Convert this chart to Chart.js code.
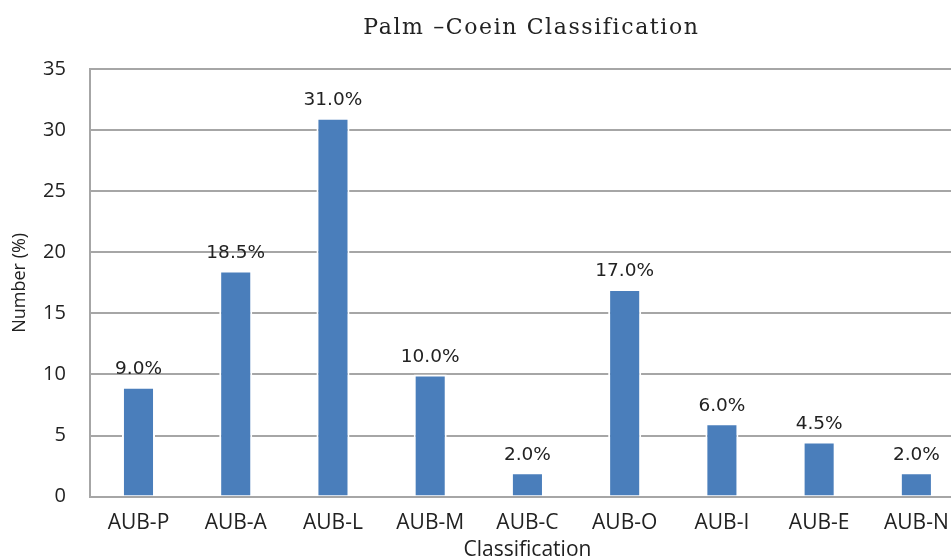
<!DOCTYPE html>
<html>
<head>
<meta charset="utf-8">
<script src="https://cdn.jsdelivr.net/npm/chart.js@4.4.0/dist/chart.umd.min.js"></script>
<style>
  html, body { margin: 0; padding: 0; background: #fff; overflow: hidden; }
  #wrap { width: 966px; height: 567px; }
</style>
</head>
<body>
<div id="wrap"><canvas id="palmchart"></canvas></div>
<script>
// chart data
const categories = ["AUB-P", "AUB-A", "AUB-L", "AUB-M", "AUB-C", "AUB-O", "AUB-I", "AUB-E", "AUB-N"];
const percentValues = [9.0, 18.5, 31.0, 10.0, 2.0, 17.0, 6.0, 4.5, 2.0];
const yTicks = [0, 5, 10, 15, 20, 25, 30, 35];

// title over the plot area + rotated y axis title
const titlePlugin = {
  id: "plotTitle",
  afterDraw(chart) {
    const ctx = chart.ctx;
    const area = chart.chartArea;
    ctx.save();
    ctx.fillStyle = "#222";
    ctx.font = "22px 'DejaVu Serif'";
    ctx.letterSpacing = "1.6px";
    ctx.textAlign = "center";
    ctx.textBaseline = "middle";
    ctx.fillText("Palm \u2013Coein Classification", (area.left + area.right) / 2 + 4, 28);
    ctx.restore();

    ctx.save();
    ctx.fillStyle = "#222";
    ctx.font = "18px 'Open Sans'";
    ctx.textAlign = "center";
    ctx.textBaseline = "middle";
    ctx.translate(20, (area.top + area.bottom) / 2);
    ctx.rotate(-Math.PI / 2);
    ctx.fillText("Number (%)", 0, 0);
    ctx.restore();
  },
};

// percentage labels above bars
const valueLabels = {
  id: "valueLabels",
  afterDatasetsDraw(chart) {
    const ctx = chart.ctx;
    const meta = chart.getDatasetMeta(0);
    ctx.save();
    ctx.fillStyle = "#222";
    ctx.font = "18.5px 'DejaVu Sans'";
    ctx.textAlign = "center";
    ctx.textBaseline = "bottom";
    meta.data.forEach(function (bar, i) {
      ctx.fillText(percentValues[i].toFixed(1) + "%", bar.x, bar.y - 8);
    });
    ctx.restore();
  },
};

var ctx = document.getElementById("palmchart").getContext("2d");
var myChart = new Chart(ctx, {
  type: "bar",
  data: {
    labels: categories,
    datasets: [
      {
        label: "Number (%)",
        data: percentValues,
        backgroundColor: "#4a7ebb",
        borderColor: "#ffffff",
        borderWidth: 2,
        barPercentage: 0.34,
        categoryPercentage: 1,
      },
    ],
  },
  options: {
    responsive: true,
    maintainAspectRatio: false,
    animation: false,
    layout: { padding: { top: 69, right: 1, left: 19, bottom: 0 } },
    plugins: {
      legend: { display: false },
      tooltip: { enabled: false },
    },
    scales: {
      x: {
        grid: { display: false },
        border: { color: "#a6a6a6", width: 2 },
        ticks: { color: "#222", font: { family: "Open Sans", size: 21 }, padding: 6 },
        title: {
          display: true,
          text: "Classification",
          color: "#222",
          font: { family: "Open Sans", size: 21 },
          padding: { top: -4, bottom: 4 },
        },
      },
      y: {
        min: 0,
        max: 35,
        afterBuildTicks(scale) {
          scale.ticks = yTicks.map((v) => ({ value: v }));
        },
        grid: { color: "#a6a6a6", lineWidth: 2, drawTicks: false },
        border: { color: "#a6a6a6", width: 2 },
        ticks: { color: "#222", font: { family: "Open Sans", size: 20 }, padding: 24 },
      },
    },
  },
  plugins: [titlePlugin, valueLabels],
});
</script>
</body>
</html>
